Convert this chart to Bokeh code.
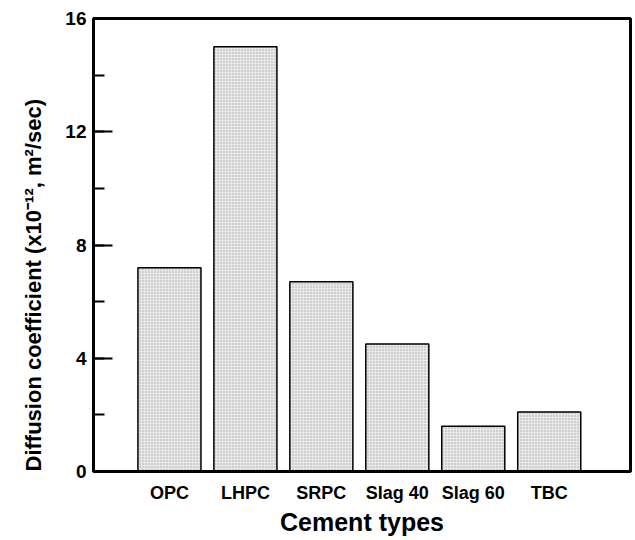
from bokeh.plotting import figure
from bokeh.models import Range1d, SingleIntervalTicker, FixedTicker, Title
from bokeh.embed import file_html
from bokeh.resources import INLINE

categories = ["OPC", "LHPC", "SRPC", "Slag 40", "Slag 60", "TBC"]
diffusion = [7.2, 15.0, 6.7, 4.5, 1.6, 2.1]

xs = list(range(len(categories)))

p = figure(width=635, height=540, output_backend="svg", toolbar_location=None,
           x_range=Range1d(-1.0, 6.07), y_range=Range1d(0, 16))
p.min_border_left = 93
p.min_border_right = 5
p.min_border_top = 18
p.min_border_bottom = 69
p.background_fill_color = "white"
p.border_fill_color = "white"
p.grid.visible = False
p.outline_line_color = "black"
p.outline_line_width = 3

p.vbar(x=xs, top=diffusion, width=0.83, bottom=0,
       fill_color="#e8e8e8", line_color="black", line_width=1.5,
       hatch_pattern="dot", hatch_color="#a8a8a8", hatch_scale=3, hatch_weight=1)

font = "Liberation Sans"

yax = p.yaxis[0]
yax.ticker = SingleIntervalTicker(interval=4, num_minor_ticks=2)
yax.axis_line_width = 3
yax.axis_line_color = "black"
yax.major_tick_in = 19
yax.major_tick_out = 0
yax.major_tick_line_width = 2
yax.major_tick_line_color = "black"
yax.minor_tick_in = 11
yax.minor_tick_out = 0
yax.minor_tick_line_width = 2
yax.minor_tick_line_color = "black"
yax.major_label_text_font = font
yax.major_label_text_font_style = "bold"
yax.major_label_text_font_size = "19px"
yax.major_label_text_color = "black"
yax.major_label_standoff = 7

# y-axis title as a side-panel title, starting at the bottom of the frame
ytitle = Title(text="Diffusion coefficient  (x10\u207b\u00b9\u00b2, m\u00b2/sec)",
               align="left", offset=0, standoff=34,
               text_font=font, text_font_style="bold", text_font_size="22px",
               text_color="black")
p.add_layout(ytitle, "left")

xax = p.xaxis[0]
xax.ticker = FixedTicker(ticks=xs)
xax.major_label_overrides = {i: c for i, c in enumerate(categories)}
xax.axis_line_width = 3
xax.axis_line_color = "black"
xax.major_tick_in = 0
xax.major_tick_out = 0
xax.minor_tick_line_color = None
xax.major_label_text_font = font
xax.major_label_text_font_style = "bold"
xax.major_label_text_font_size = "18px"
xax.major_label_text_color = "black"
xax.major_label_standoff = 11
xax.axis_label = "Cement types"
xax.axis_label_text_font = font
xax.axis_label_text_font_style = "bold"
xax.axis_label_text_font_size = "25px"
xax.axis_label_text_color = "black"
xax.axis_label_standoff = 2

open("out.html", "w").write(file_html(p, INLINE))
